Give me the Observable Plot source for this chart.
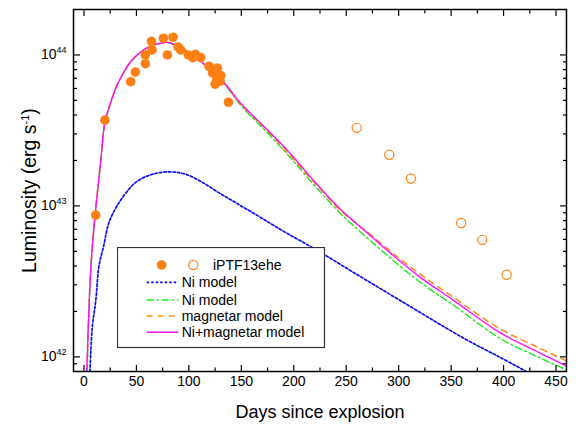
<!DOCTYPE html>
<html>
<head>
<meta charset="utf-8">
<script src="https://cdn.jsdelivr.net/npm/d3@7"></script>
<script src="https://cdn.jsdelivr.net/npm/@observablehq/plot@0.6"></script>
<style>
  body { margin: 0; background: #fff; }
  #wrap { position: relative; width: 576px; height: 424px; font-family: "Liberation Sans", Arial, sans-serif; }
  #legend { position: absolute; left: 117px; top: 247px; }
</style>
</head>
<body>
<div id="wrap"></div>
<script>
// ---------- data ----------
const filledDays = [11.2, 20, 44.5, 49, 58.5, 58.5, 64.3, 64.9, 75.7, 79.5, 84.9, 89.7, 92.2, 99.5, 103.7, 106.2, 111.3, 119.2, 127.2, 122.5, 130.4, 125, 129.7, 126.6, 137.7];
const filledLum  = [8.7e42, 3.7e43, 6.65e43, 7.7e43, 8.75e43, 1.0e44, 1.23e44, 1.08e44, 1.29e44, 1.0e44, 1.31e44, 1.13e44, 1.08e44, 1.0e44, 9.6e43, 1.01e44, 9.6e43, 8.4e43, 8.2e43, 7.6e43, 7.3e43, 6.4e43, 6.7e43, 6.9e43, 4.86e43];

const openDays = [260, 291, 311.6, 359.6, 379.6, 402.9];
const openLum  = [3.29e43, 2.18e43, 1.52e43, 7.7e42, 5.96e42, 3.5e42];

// Ni model (blue dotted)
const niDays = [5.7, 6.4, 8, 11.2, 14.3, 19, 23.8, 33.4, 49.3, 65.2, 81, 97, 113, 128.8, 144.7, 160.6, 176.5, 192.4, 217.8, 260, 302, 362, 397, 421];
const niLum  = [8.0e41, 1.05e42, 1.6e42, 2.35e42, 4.0e42, 5.52e42, 7.75e42, 1.05e43, 1.43e43, 1.62e43, 1.68e43, 1.62e43, 1.43e43, 1.22e43, 1.05e43, 9.03e42, 7.75e42, 6.65e42, 5.3e42, 3.52e42, 2.35e42, 1.33e42, 9.9e41, 8.05e41];

// Ni model (green dash-dot)
const niGreenDays = [3.2, 4, 6, 8, 11, 16, 20, 25, 30, 35, 45, 57, 65, 72, 80, 92, 111, 133.5, 150, 175, 197, 220, 245, 270, 293, 320, 353, 397, 430, 460];
const niGreenLum  = [8.0e41, 1.45e42, 3.3e42, 5.43e42, 9.27e42, 1.99e43, 3.6e43, 4.73e43, 5.96e43, 7.05e43, 9.12e43, 1.08e44, 1.16e44, 1.19e44, 1.21e44, 1.12e44, 9.12e43, 6.43e43, 4.59e43, 3.04e43, 2.08e43, 1.36e43, 8.85e42, 6.14e42, 4.46e42, 3.14e42, 2.18e42, 1.32e42, 1.02e42, 8.2e41];

// magnetar model (orange dashed)
const magDays = [2.8, 4, 6, 8, 11, 16, 20, 25, 30, 35, 45, 57, 65, 72, 80, 92, 111, 133.5, 150, 175, 197, 220, 245, 270, 293, 320, 353, 397, 430, 460];
const magLum  = [8.0e41, 1.49e42, 3.33e42, 5.43e42, 9.27e42, 1.99e43, 3.6e43, 4.73e43, 5.96e43, 7.05e43, 9.12e43, 1.08e44, 1.16e44, 1.19e44, 1.21e44, 1.12e44, 9.12e43, 6.5e43, 4.66e43, 3.14e43, 2.14e43, 1.42e43, 9.27e42, 6.73e42, 4.96e42, 3.55e42, 2.46e42, 1.53e42, 1.18e42, 9.4e41];

// Ni+magnetar model (magenta solid)
const sumDays = [2.6, 4, 6, 8, 11, 16, 20, 25, 30, 35, 45, 57, 65, 72, 80, 92, 111, 133.5, 150, 175, 197, 220, 245, 270, 293, 320, 353, 397, 430, 460];
const sumLum  = [8.0e41, 1.49e42, 3.33e42, 5.43e42, 9.27e42, 1.99e43, 3.6e43, 4.73e43, 5.96e43, 7.05e43, 9.12e43, 1.08e44, 1.16e44, 1.19e44, 1.21e44, 1.12e44, 9.12e43, 6.56e43, 4.73e43, 3.18e43, 2.21e43, 1.44e43, 9.42e42, 6.63e42, 4.81e42, 3.39e42, 2.35e42, 1.44e42, 1.1e42, 8.71e41];

// axis ticks
const xMajorTicks = [0, 50, 100, 150, 200, 250, 300, 350, 400, 450];
const xMinorTicks = [25, 75, 125, 175, 225, 275, 325, 375, 425];
const yMajorTicks = [1e42, 1e43, 1e44];
const yMinorTicks = [9e41, 2e42, 3e42, 4e42, 5e42, 6e42, 7e42, 8e42, 9e42, 2e43, 3e43, 4e43, 5e43, 6e43, 7e43, 8e43, 9e43];

// legend entries
const legendLabels = ["Ni model", "Ni model", "magnetar model", "Ni+magnetar model"];
const pointLabel = "iPTF13ehe";

// ---------- styles ----------
const ORANGE = "#ff8012";
const BLUE = "#0c0cf0";
const GREEN = "#1ee61e";
const DASHOR = "#ff8a10";
const MAGENTA = "#ff10ff";
const lineStyles = [
  {stroke: BLUE, dash: "2.5,2", width: 1.7},
  {stroke: GREEN, dash: "7,3,2,3", width: 1.4},
  {stroke: DASHOR, dash: "6,5", width: 1.5},
  {stroke: MAGENTA, dash: null, width: 1.4}
];

const rows = (xs, ys) => xs.map((d, i) => ({x: d, y: ys[i]}));
const noText = () => "";

const chart = Plot.plot({
  width: 576,
  height: 424,
  marginLeft: 73,
  marginRight: 10,
  marginTop: 9,
  marginBottom: 53,
  style: {fontFamily: '"Liberation Sans", Arial, sans-serif', fontSize: "14px", color: "#000", background: "#fff"},
  x: {domain: [-10, 460]},
  y: {type: "log", domain: [8e41, 2e44]},
  marks: [
    Plot.line(rows(niDays, niLum), {x: "x", y: "y", stroke: lineStyles[0].stroke, strokeWidth: lineStyles[0].width, strokeDasharray: lineStyles[0].dash, curve: "catmull-rom", clip: true}),
    Plot.line(rows(niGreenDays, niGreenLum), {x: "x", y: "y", stroke: lineStyles[1].stroke, strokeWidth: lineStyles[1].width, strokeDasharray: lineStyles[1].dash, curve: "catmull-rom", clip: true}),
    Plot.line(rows(magDays, magLum), {x: "x", y: "y", stroke: lineStyles[2].stroke, strokeWidth: lineStyles[2].width, strokeDasharray: lineStyles[2].dash, curve: "catmull-rom", clip: true}),
    Plot.line(rows(sumDays, sumLum), {x: "x", y: "y", stroke: lineStyles[3].stroke, strokeWidth: lineStyles[3].width, curve: "catmull-rom", clip: true}),
    Plot.dot(rows(filledDays, filledLum), {x: "x", y: "y", r: 4.8, fill: ORANGE, stroke: "none"}),
    Plot.dot(rows(openDays, openLum), {x: "x", y: "y", r: 4.6, fill: "none", stroke: ORANGE, strokeWidth: 1.2}),

    Plot.axisX({ticks: xMajorTicks, tickSize: 0, tickPadding: 5, fontSize: 14, label: "Days since explosion", labelAnchor: "center", labelArrow: "none", labelOffset: 46}),
    Plot.axisX({ticks: xMajorTicks, tickSize: -6, tickFormat: noText, label: null, strokeWidth: 1.2}),
    Plot.axisX({ticks: xMinorTicks, tickSize: -3.5, tickFormat: noText, label: null, strokeWidth: 1.2}),
    Plot.axisX({anchor: "top", ticks: xMajorTicks, tickSize: -6, tickFormat: noText, label: null, strokeWidth: 1.2}),
    Plot.axisX({anchor: "top", ticks: xMinorTicks, tickSize: -3.5, tickFormat: noText, label: null, strokeWidth: 1.2}),

    Plot.axisY({ticks: yMajorTicks, tickSize: 0, tickPadding: 7, fontSize: 14, tickFormat: d => "10^" + Math.round(Math.log10(d)), label: "Luminosity (erg s^-1)", labelAnchor: "center", labelArrow: "none", labelOffset: 51}),
    Plot.axisY({ticks: yMajorTicks, tickSize: -7, tickFormat: noText, label: null, strokeWidth: 1.2}),
    Plot.axisY({ticks: yMinorTicks, tickSize: -4, tickFormat: noText, label: null, strokeWidth: 1.2}),
    Plot.axisY({anchor: "right", ticks: yMajorTicks, tickSize: -7, tickFormat: noText, label: null, strokeWidth: 1.2}),
    Plot.axisY({anchor: "right", ticks: yMinorTicks, tickSize: -4, tickFormat: noText, label: null, strokeWidth: 1.2}),

    Plot.frame({stroke: "#000", strokeWidth: 1.5})
  ]
});

// superscripts in tick labels and the y title
const svgNS = "http://www.w3.org/2000/svg";
function supText(el, base, sup, after, supSize, rise) {
  el.textContent = "";
  const t1 = document.createElementNS(svgNS, "tspan"); t1.textContent = base; el.appendChild(t1);
  const t2 = document.createElementNS(svgNS, "tspan"); t2.textContent = sup;
  t2.setAttribute("dy", -rise); t2.setAttribute("font-size", supSize); el.appendChild(t2);
  if (after) {
    const t3 = document.createElementNS(svgNS, "tspan"); t3.textContent = after;
    t3.setAttribute("dy", rise); el.appendChild(t3);
  }
}
chart.querySelectorAll("text").forEach(el => {
  const s = el.textContent;
  const m = /^10\^(\d+)$/.exec(s);
  if (m) supText(el, "10", m[1], null, 9, 6);
  else if (s.startsWith("Luminosity")) { supText(el, "Luminosity (erg s", "-1", ")", 11, 7); el.setAttribute("font-size", 19.5); }
  else if (s.startsWith("Days")) el.setAttribute("font-size", 18);
});

document.getElementById("wrap").appendChild(chart);

// legend box (inside plot area, opaque)
const lg = d3.select("#wrap").append("svg").attr("id", "legend")
  .attr("width", 209).attr("height", 102);
lg.append("rect").attr("x", 0.5).attr("y", 0.5).attr("width", 207).attr("height", 100)
  .attr("fill", "#fff").attr("stroke", "#333").attr("stroke-width", 1.2);
lg.append("circle").attr("cx", 44.7).attr("cy", 18).attr("r", 4.8).attr("fill", ORANGE);
lg.append("circle").attr("cx", 76.3).attr("cy", 18).attr("r", 4.6).attr("fill", "none").attr("stroke", ORANGE).attr("stroke-width", 1.2);
lg.append("text").attr("x", 96).attr("y", 23).attr("font-size", 14).attr("fill", "#000")
  .attr("font-family", '"Liberation Sans", Arial, sans-serif').text(pointLabel);
const rowY = [35.3, 53, 69, 85.3];
legendLabels.forEach((lab, i) => {
  const st = lineStyles[i];
  lg.append("line").attr("x1", 29.7).attr("x2", 61.3).attr("y1", rowY[i]).attr("y2", rowY[i])
    .attr("stroke", st.stroke).attr("stroke-width", st.width).attr("stroke-dasharray", st.dash);
  lg.append("text").attr("x", 64.7).attr("y", rowY[i] + 5).attr("font-size", 14).attr("fill", "#000")
    .attr("font-family", '"Liberation Sans", Arial, sans-serif').text(lab);
});
</script>
</body>
</html>
